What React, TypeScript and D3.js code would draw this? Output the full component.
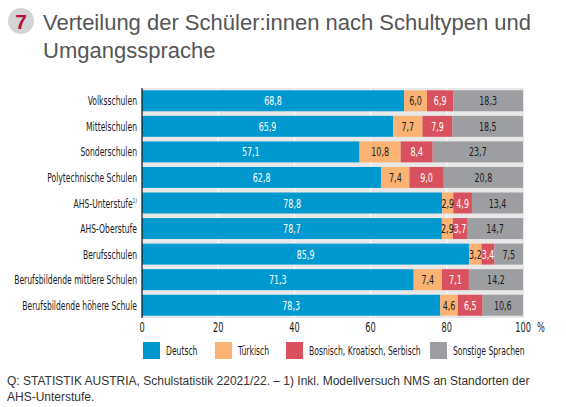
import React from "react";
import * as d3 from "d3";

const categories = [
  "Volksschulen",
  "Mittelschulen",
  "Sonderschulen",
  "Polytechnische Schulen",
  "AHS-Unterstufe",
  "AHS-Oberstufe",
  "Berufsschulen",
  "Berufsbildende mittlere Schulen",
  "Berufsbildende höhere Schule",
];
const seriesNames = ["Deutsch", "Türkisch", "Bosnisch, Kroatisch, Serbisch", "Sonstige Sprachen"];
const deutsch = [68.8, 65.9, 57.1, 62.8, 78.8, 78.7, 85.9, 71.3, 78.3];
const tuerkisch = [6.0, 7.7, 10.8, 7.4, 2.9, 2.9, 3.2, 7.4, 4.6];
const bks = [6.9, 7.9, 8.4, 9.0, 4.9, 3.7, 3.4, 7.1, 6.5];
const sonstige = [18.3, 18.5, 23.7, 20.8, 13.4, 14.7, 7.5, 14.2, 10.6];
const xTicks = [0, 20, 40, 60, 80, 100];

const colors = ["#0099cf", "#fbb273", "#d9515f", "#9d9ea2"];
const labelColors = ["#ffffff", "#1a1a1a", "#ffffff", "#1a1a1a"];
const COND = "'DejaVu Sans Condensed', 'DejaVu Sans', sans-serif";
const SX = 0.68;

const fmt = (v: number) => v.toFixed(1).replace(".", ",");

// narrow text: the original uses a condensed face, squeeze horizontally
function NText({ x, y, anchor = "start", size = 12, fill = "#1a1a1a", children }: any) {
  return (
    <text
      transform={`translate(${x},${y}) scale(${SX},1)`}
      textAnchor={anchor}
      fontFamily={COND}
      fontSize={size}
      fill={fill}
    >
      {children}
    </text>
  );
}

export default function App() {
  const width = 566;
  const height = 407;
  const x = d3.scaleLinear().domain([0, 100]).range([142, 523]);
  const y = d3.scaleBand<string>().domain(categories).range([88, 318]).paddingInner(0.18).paddingOuter(0.09);

  const rows = categories.map((c, i) => ({
    cat: c,
    Deutsch: deutsch[i],
    "Türkisch": tuerkisch[i],
    "Bosnisch, Kroatisch, Serbisch": bks[i],
    "Sonstige Sprachen": sonstige[i],
  }));
  const stack = d3.stack<any>().keys(seriesNames)(rows);

  const legendX = [143, 215, 286, 430];

  return (
    <svg width={width} height={height} style={{ position: "absolute", left: 0, top: 0, background: "#fff" }}>
      {/* title */}
      <circle cx={21} cy={21} r={13} fill="#d4d4d6" />
      <text x={21} y={28.5} textAnchor="middle" fontFamily="'Liberation Sans', sans-serif" fontWeight="bold" fontSize={21} fill="#b5123f">
        7
      </text>
      <text x={43} y={30} fontFamily="'Liberation Sans', sans-serif" fontSize={22} fill="#555557">
        Verteilung der Schüler:innen nach Schultypen und
      </text>
      <text x={43} y={58} fontFamily="'Liberation Sans', sans-serif" fontSize={22} fill="#555557">
        Umgangssprache
      </text>

      {/* background */}
      <rect x={x(0)} y={88} width={x(100) - x(0) + 1} height={230} fill="#e8e8e8" />
      {xTicks.slice(1, -1).map((t) => (
        <line key={t} x1={x(t)} x2={x(t)} y1={88} y2={318} stroke="#ffffff" strokeWidth={1} />
      ))}

      {/* bars */}
      {stack.map((s, si) =>
        s.map((d, i) => {
          const x0 = x(d[0]);
          const x1 = x(d[1]);
          const yy = y(categories[i])!;
          return (
            <rect key={`${si}-${i}`} x={x0} y={yy} width={x1 - x0} height={y.bandwidth()} fill={colors[si]} />
          );
        })
      )}
      {stack.map((s, si) =>
        s.map((d, i) => {
          const x0 = x(d[0]);
          const x1 = x(d[1]);
          const yy = y(categories[i])!;
          return (
            <NText
              key={`l${si}-${i}`}
              x={(x0 + x1) / 2}
              y={yy + y.bandwidth() / 2 + 4.5}
              anchor="middle"
              size={13}
              fill={labelColors[si]}
            >
              {fmt(d[1] - d[0])}
            </NText>
          );
        })
      )}

      {/* axis line */}
      <line x1={x(0)} x2={x(0)} y1={88} y2={318} stroke="#111" strokeWidth={1.2} />

      {/* category labels */}
      {categories.map((c) => (
        <NText key={c} x={137} y={y(c)! + y.bandwidth() / 2 + 4.5} anchor="end" size={12.5}>
          {c}
          {c === "AHS-Unterstufe" && (
            <tspan fontSize={7} dy={-5}>
              1)
            </tspan>
          )}
        </NText>
      ))}

      {/* x ticks */}
      {xTicks.map((t) => (
        <NText key={t} x={x(t)} y={332} anchor="middle" size={13.5}>
          {t}
        </NText>
      ))}
      <NText x={541} y={332} anchor="middle" size={13.5}>
        %
      </NText>

      {/* legend */}
      {seriesNames.map((n, i) => (
        <g key={n}>
          <rect x={legendX[i]} y={342} width={17} height={17} fill={colors[i]} />
          <NText x={legendX[i] + 23} y={355} size={12.5}>
            {n}
          </NText>
        </g>
      ))}

      {/* footnote */}
      <text x={7} y={385} fontFamily="'Liberation Sans', sans-serif" fontSize={12} fill="#333">
        Q: STATISTIK AUSTRIA, Schulstatistik 22021/22. – 1) Inkl. Modellversuch NMS an Standorten der
      </text>
      <text x={7} y={401} fontFamily="'Liberation Sans', sans-serif" fontSize={12} fill="#333">
        AHS-Unterstufe.
      </text>
    </svg>
  );
}
